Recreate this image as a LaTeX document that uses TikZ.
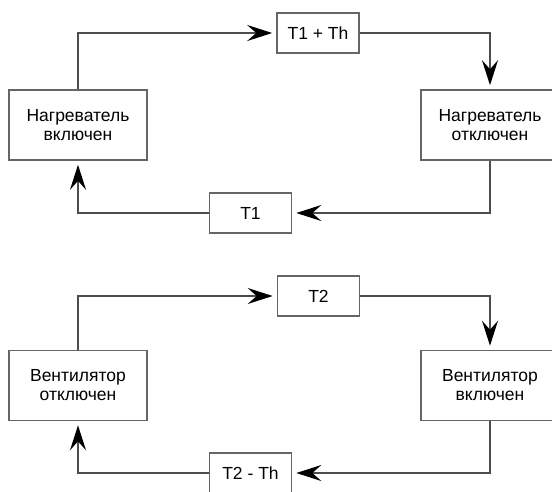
\documentclass[tikz,border=0pt]{standalone}
\usepackage{fontspec}
\setmainfont{Liberation Sans}
\usepackage{tikz}
\usetikzlibrary{positioning, arrows.meta}
\tikzset{>={Stealth[length=25pt, width=16pt, inset=9pt, color=black]}}
\tikzset{
  statebox/.style={draw=black!60, line width=1.6pt, minimum width=138pt,
    minimum height=70pt, inner sep=0pt, align=center,
    font=\fontsize{17.5}{19}\selectfont},
  levelbox/.style={draw=black!60, line width=1.6pt, minimum width=82pt,
    minimum height=40pt, inner sep=0pt,
    font=\fontsize{17.5}{19}\selectfont},
  flow/.style={->, draw=black!70, line width=1.6pt, shorten >=4pt},
}

\begin{document}
\begin{tikzpicture}[x=1pt, y=-1pt, on grid]
  \useasboundingbox (0,0) rectangle (552,491);

  % START: Heater -----------------------------------
  \node[statebox] (heatOn) at (78,125) {Нагреватель\\включен};
  \node[statebox, right=412pt of heatOn] (heatOff) {Нагреватель\\отключен};
  \node[levelbox, above right=92pt and 240pt of heatOn] (t1th) {T1 + Th};
  \node[levelbox, below right=88pt and 172.5pt of heatOn] (t1) {T1};
  % END: Heater -------------------------------------

  % START: Fan --------------------------------------
  \node[statebox, below=260.5pt of heatOn] (fanOff) {Вентилятор\\отключен};
  \node[statebox, right=412pt of fanOff] (fanOn) {Вентилятор\\включен};
  \node[levelbox, above right=89.5pt and 240.5pt of fanOff] (t2) {T2};
  \node[levelbox, below right=87.5pt and 172.5pt of fanOff] (t2th) {T2 - Th};
  % END: Fan ----------------------------------------

  % loops
  \draw[flow] (heatOn.north) |- (t1th.west);
  \draw[flow] (t1th.east) -| (heatOff.north);
  \draw[flow] (heatOff.south) |- (t1.east);
  \draw[flow] (t1.west) -| (heatOn.south);

  \draw[flow] (fanOff.north) |- (t2.west);
  \draw[flow] (t2.east) -| (fanOn.north);
  \draw[flow] (fanOn.south) |- (t2th.east);
  \draw[flow] (t2th.west) -| (fanOff.south);
\end{tikzpicture}
\end{document}
